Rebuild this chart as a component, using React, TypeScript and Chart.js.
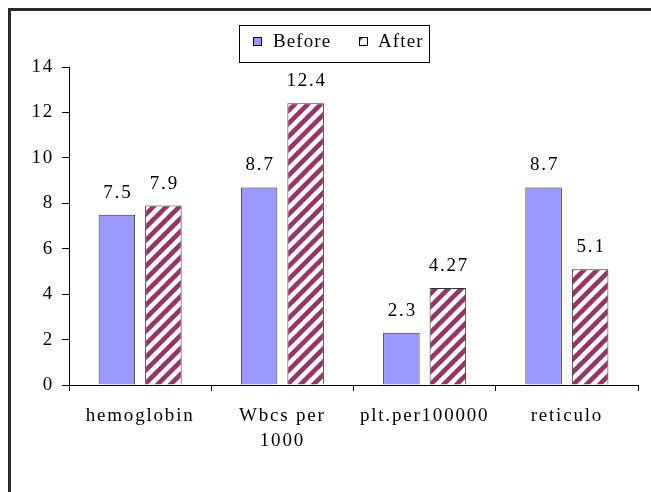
import React, { useEffect, useRef } from "react";
import { Chart, registerables } from "chart.js";

Chart.register(...registerables);

const categories: (string | string[])[] = ["hemoglobin", ["Wbcs per", "1000"], "plt.per100000", "reticulo"];
const beforeValues = [7.5, 8.7, 2.3, 8.7];
const afterValues = [7.9, 12.4, 4.27, 5.1];
const seriesNames = ["Before", "After"];
const yTicks = [0, 2, 4, 6, 8, 10, 12, 14];

const FONT_FAMILY = "'Liberation Serif', 'Times New Roman', serif";
const FONT_SIZE = 19;
const LS = "1.8px";

function makePattern(): CanvasPattern | string {
  const s = 13;
  const c = document.createElement("canvas");
  c.width = s;
  c.height = s;
  const g = c.getContext("2d");
  if (!g) return "#993366";
  g.fillStyle = "#ffffff";
  g.fillRect(0, 0, s, s);
  g.strokeStyle = "#993366";
  g.lineWidth = 4.6;
  g.beginPath();
  g.moveTo(-4, s + 4);
  g.lineTo(s + 4, -4);
  g.moveTo(-4, 4);
  g.lineTo(4, -4);
  g.moveTo(s - 4, s + 4);
  g.lineTo(s + 4, s - 4);
  g.stroke();
  return g.createPattern(c, "repeat") || "#993366";
}

export default function App() {
  const ref = useRef<HTMLCanvasElement | null>(null);

  useEffect(() => {
    const canvas = ref.current;
    if (!canvas) return;
    const pattern = makePattern();

    const spacingPlugin = {
      id: "spacing",
      beforeLayout(chart: any) {
        chart.ctx.letterSpacing = LS;
      },
      beforeDraw(chart: any) {
        chart.ctx.letterSpacing = LS;
      },
    };

    const labelPlugin = {
      id: "valueLabels",
      afterDatasetsDraw(chart: any) {
        const ctx = chart.ctx;
        ctx.save();
        ctx.letterSpacing = LS;
        ctx.font = `${FONT_SIZE}px ${FONT_FAMILY}`;
        ctx.fillStyle = "#000";
        ctx.textAlign = "center";
        ctx.textBaseline = "middle";
        chart.data.datasets.forEach((ds: any, i: number) => {
          const meta = chart.getDatasetMeta(i);
          meta.data.forEach((bar: any, j: number) => {
            ctx.fillText(String(ds.data[j]), bar.x + 1, bar.y - 22);
          });
        });
        ctx.restore();
      },
    };

    const legendPlugin = {
      id: "boxLegend",
      afterDraw(chart: any) {
        const ctx = chart.ctx;
        ctx.save();
        ctx.letterSpacing = "1.1px";
        ctx.strokeStyle = "#000";
        ctx.lineWidth = 1;
        ctx.strokeRect(228.5, 14.5, 190, 37);
        const items = [
          { x: 242, tx: 262, fill: chart.data.datasets[0].backgroundColor, text: seriesNames[0] },
          { x: 348, tx: 367, fill: "#ffffff", text: seriesNames[1] },
        ];
        ctx.font = `${FONT_SIZE}px ${FONT_FAMILY}`;
        ctx.textAlign = "left";
        ctx.textBaseline = "middle";
        items.forEach((it, i) => {
          ctx.fillStyle = it.fill;
          ctx.fillRect(it.x, 26, 8, 8);
          if (i === 1) {
            ctx.fillStyle = "#993366";
            ctx.beginPath();
            ctx.moveTo(it.x + 1, 26 + 4);
            ctx.lineTo(it.x + 1, 26 + 1);
            ctx.lineTo(it.x + 4, 26 + 1);
            ctx.closePath();
            ctx.fill();
          }
          ctx.strokeRect(it.x + 0.5, 26.5, 8, 8);
          ctx.fillStyle = "#000";
          ctx.fillText(it.text, it.tx, 31);
        });
        ctx.restore();
      },
    };

    const chart = new Chart(canvas, {
      type: "bar",
      data: {
        labels: categories,
        datasets: [
          {
            label: seriesNames[0],
            data: beforeValues,
            backgroundColor: "#9999FF",
            borderColor: "#333333",
            borderWidth: 1,
            categoryPercentage: 0.654,
            barPercentage: 0.785,
          },
          {
            label: seriesNames[1],
            data: afterValues,
            backgroundColor: pattern as any,
            borderColor: "#333333",
            borderWidth: 1,
            categoryPercentage: 0.654,
            barPercentage: 0.785,
          },
        ],
      },
      options: {
        responsive: false,
        animation: false,
        devicePixelRatio: 1,
        layout: { padding: { left: 0, right: 13, top: 56, bottom: 0 } },
        plugins: {
          legend: { display: false },
          tooltip: { enabled: false },
          title: { display: false },
        },
        scales: {
          x: {
            grid: {
              display: true,
              offset: true,
              drawOnChartArea: false,
              drawTicks: true,
              tickLength: 6,
              color: "#000",
            },
            border: { display: true, color: "#000", width: 1 },
            ticks: {
              color: "#000",
              padding: 13,
              maxRotation: 0,
              autoSkip: false,
              font: { family: FONT_FAMILY, size: FONT_SIZE, lineHeight: 1.3 },
            },
            afterFit(scale: any) {
              scale.height = 107;
            },
          },
          y: {
            min: 0,
            max: 14,
            afterBuildTicks(scale: any) {
              scale.ticks = yTicks.map((v) => ({ value: v }));
            },
            grid: {
              display: true,
              drawOnChartArea: false,
              drawTicks: true,
              tickLength: 7,
              color: "#000",
            },
            border: { display: true, color: "#000", width: 1 },
            ticks: {
              color: "#000",
              padding: 8,
              font: { family: FONT_FAMILY, size: FONT_SIZE },
            },
            afterFit(scale: any) {
              scale.width = 58;
            },
          },
        },
      },
      plugins: [spacingPlugin, labelPlugin, legendPlugin],
    });

    return () => chart.destroy();
  }, []);

  return (
    <div
      style={{
        position: "fixed",
        left: 8,
        top: 8,
        width: 643,
        height: 484,
        borderLeft: "3px solid #2a2a2a",
        borderTop: "3px solid #2a2a2a",
        background: "#fff",
        boxSizing: "border-box",
        overflow: "hidden",
      }}
    >
      <canvas ref={ref} width={640} height={481} style={{ display: "block", width: 640, height: 481 }} />
    </div>
  );
}
